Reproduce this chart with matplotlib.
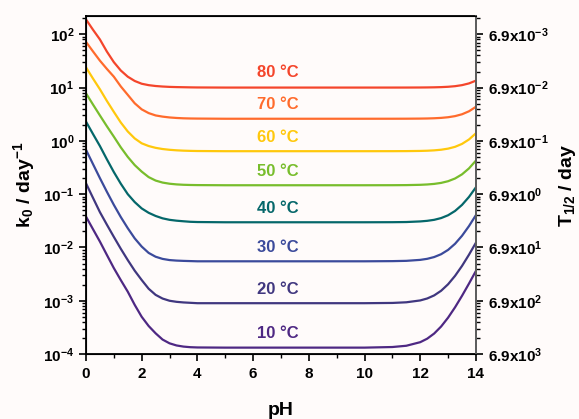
import matplotlib
matplotlib.use("Agg")
import matplotlib.pyplot as plt
from matplotlib.ticker import LogLocator, FixedLocator, FixedFormatter, NullFormatter

plt.rcParams['font.family'] = ['Liberation Sans', 'DejaVu Sans']
plt.rcParams['font.weight'] = 'bold'
plt.rcParams['mathtext.fontset'] = 'custom'
plt.rcParams['mathtext.rm'] = 'Liberation Sans:bold'
plt.rcParams['mathtext.it'] = 'Liberation Sans:bold'
plt.rcParams['mathtext.bf'] = 'Liberation Sans:bold'

# ---- data ----
ph = [0, 0.25, 0.5, 0.75, 1, 1.25, 1.5, 1.75, 2, 2.25, 2.5, 2.75, 3, 3.25, 3.5, 3.75, 4,
      5, 6, 8, 10, 11, 11.5, 12, 12.25, 12.5, 12.75, 13, 13.25, 13.5, 13.75, 14]

k80 = [190, 122, 80, 47.4, 30, 20.9, 16, 13.3, 11.8, 11.1, 10.7, 10.46, 10.3, 10.21, 10.15, 10.09, 10.05,
       10.0, 10.0, 10.0, 10.0,
       10.0035, 10.011, 10.035, 10.062, 10.11, 10.197, 10.35, 10.62, 11.11, 11.97, 13.5]
k70 = [72, 47.8, 32, 22.4, 16, 10.5, 7.3, 5.07, 3.9, 3.32, 3.0, 2.85, 2.75, 2.69, 2.65, 2.63, 2.62,
       2.6, 2.6, 2.6, 2.6,
       2.602, 2.606, 2.618, 2.631, 2.656, 2.699, 2.776, 2.913, 3.156, 3.589, 4.36]
k60 = [24, 14.8, 9.3, 5.62, 3.5, 2.21, 1.5, 1.11, 0.90, 0.80, 0.74, 0.703, 0.68, 0.665, 0.655, 0.649, 0.645,
       0.64, 0.64, 0.64, 0.64,
       0.6408, 0.6424, 0.6475, 0.6533, 0.6637, 0.6822, 0.715, 0.773, 0.877, 1.062, 1.39]
k50 = [7.8, 4.82, 3.0, 1.88, 1.2, 0.756, 0.50, 0.351, 0.265, 0.209, 0.18, 0.165, 0.157, 0.1525, 0.150, 0.1487, 0.148,
       0.147, 0.147, 0.147, 0.147,
       0.1473, 0.1479, 0.1498, 0.152, 0.1558, 0.1627, 0.175, 0.1968, 0.2355, 0.3044, 0.427]
k40 = [2.3, 1.35, 0.80, 0.451, 0.26, 0.157, 0.10, 0.071, 0.054, 0.0447, 0.039, 0.0352, 0.033, 0.0318, 0.031, 0.0303,
       0.030, 0.0297, 0.0297, 0.0297, 0.0297,
       0.0298, 0.0300, 0.0308, 0.0316, 0.0330, 0.0356, 0.0402, 0.0484, 0.0629, 0.0887, 0.1347]
k30 = [0.68, 0.368, 0.20, 0.111, 0.063, 0.0372, 0.023, 0.0148, 0.0104, 0.0079, 0.0067, 0.0061, 0.0058, 0.00567,
       0.0056, 0.00555, 0.0055, 0.0055, 0.0055, 0.0055, 0.0055,
       0.00554, 0.00561, 0.00585, 0.00612, 0.00661, 0.00747, 0.0090, 0.01172, 0.01656, 0.02517, 0.0405]
k20 = [0.16, 0.0856, 0.046, 0.0268, 0.0158, 0.00944, 0.0058, 0.00366, 0.00245, 0.00168, 0.00129, 0.0011, 0.0010,
       0.000955, 0.00093, 0.000915, 0.0009, 0.0009, 0.0009, 0.0009, 0.0009,
       0.00091, 0.000936, 0.001014, 0.001103, 0.00126, 0.00154, 0.00204, 0.00293, 0.0045, 0.00731, 0.0123]
k10 = [0.038, 0.0221, 0.0129, 0.00725, 0.0041, 0.00244, 0.00148, 0.000836, 0.00050, 0.000336, 0.000245, 0.000187,
       0.000159, 0.000145, 0.000138, 0.0001345, 0.000133, 0.000132, 0.000132, 0.000132, 0.000132,
       0.0001355, 0.0001431, 0.000167, 0.0001942, 0.0002426, 0.0003287, 0.000482, 0.000754, 0.001238, 0.002099,
       0.003632]

series = [k80, k70, k60, k50, k40, k30, k20, k10]
temps = ['80 °C', '70 °C', '60 °C', '50 °C', '40 °C', '30 °C', '20 °C', '10 °C']

left_ticks = [1e2, 1e1, 1e0, 1e-1, 1e-2, 1e-3, 1e-4]
left_labels = ['$10^{2}$', '$10^{1}$', '$10^{0}$', '$10^{-1}$', '$10^{-2}$', '$10^{-3}$', '$10^{-4}$']
right_labels = ['$6.9x10^{-3}$', '$6.9x10^{-2}$', '$6.9x10^{-1}$', '$6.9x10^{0}$',
                '$6.9x10^{1}$', '$6.9x10^{2}$', '$6.9x10^{3}$']

# ---- style ----
colors = ['#f4452b', '#ff6b2c', '#ffc80c', '#78bd2c', '#05676a', '#3b4a9b', '#40377f', '#4e2883']
label_y = [18.8, 4.9, 1.18, 0.27, 0.055, 0.0101, 0.00165, 0.00024]
bg = '#fffbfa'

fig = plt.figure(figsize=(5.79, 4.19), dpi=100, facecolor=bg)
ax = fig.add_axes([0.1485, 0.155, 0.6735, 0.8075], facecolor=bg)

for k, c in zip(series, colors):
    ax.plot(ph, k, color=c, lw=1.6, solid_joinstyle='round')

for t, y, c in zip(temps, label_y, colors):
    ax.text(6.9, y, t, color=c, fontsize=12, fontweight='bold', ha='center', va='center')

ax.set_yscale('log')
ax.set_xlim(0, 14)
ax.set_ylim(1e-4, 223)

ax.set_xticks(range(0, 15, 2))
ax.set_xticks(range(1, 15, 2), minor=True)
ax.yaxis.set_major_locator(FixedLocator(left_ticks))
ax.yaxis.set_major_formatter(FixedFormatter(left_labels))
ax.yaxis.set_minor_locator(LogLocator(base=10, subs=range(2, 10), numticks=20))
ax.yaxis.set_minor_formatter(NullFormatter())

ax.tick_params(axis='both', which='major', direction='out', length=5, width=1.2, labelsize=11)
ax.tick_params(axis='both', which='minor', direction='out', length=3, width=1.0)
ax.tick_params(axis='x', pad=4)

for s in ax.spines.values():
    s.set_linewidth(1.3)

ax.set_xlabel('pH', fontsize=14, fontweight='bold', labelpad=15.5)
ax.set_ylabel('k$_{0}$ / day$^{-1}$', fontsize=14, fontweight='bold', labelpad=4)

ax2 = ax.twinx()
ax2.set_yscale('log')
ax2.set_ylim(ax.get_ylim())
ax2.yaxis.set_major_locator(FixedLocator(left_ticks))
ax2.yaxis.set_major_formatter(FixedFormatter(right_labels))
ax2.yaxis.set_minor_locator(LogLocator(base=10, subs=range(2, 10), numticks=20))
ax2.yaxis.set_minor_formatter(NullFormatter())
ax2.tick_params(axis='y', which='major', direction='out', length=5, width=1.2, labelsize=11)
ax2.tick_params(axis='y', which='minor', direction='out', length=3, width=1.0)
ax2.spines['right'].set_color('#666666')
ax2.spines['right'].set_linewidth(1.3)
ax2.set_ylabel('T$_{1/2}$ / day', fontsize=14, fontweight='bold', labelpad=6)

fig.savefig('out.png', dpi=100, facecolor=bg)
